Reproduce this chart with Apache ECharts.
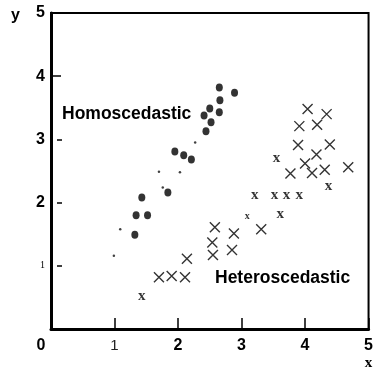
<!DOCTYPE html>
<html>
<head>
<meta charset="utf-8">
<script src="https://cdn.jsdelivr.net/npm/echarts@6/dist/echarts.min.js"></script>
<style>
html,body{margin:0;padding:0;background:#fff}
#chart{width:376px;height:371px}
</style>
</head>
<body>
<div id="chart"></div>
<script>
// Axis ranges and tick labels
const xTickLabels = ['0', '1', '2', '3', '4', '5'];
const yTickLabels = ['', '1', '2', '3', '4', '5'];

// Homoscedastic group: filled dots
const homoscedastic = [
  [1.32, 1.49], [1.34, 1.80], [1.52, 1.80], [1.43, 2.08], [1.84, 2.16],
  [1.95, 2.81], [2.09, 2.75], [2.21, 2.68], [2.44, 3.13], [2.52, 3.27],
  [2.41, 3.38], [2.50, 3.49], [2.65, 3.43], [2.66, 3.62], [2.65, 3.82],
  [2.89, 3.74]
];

// Faint small specks near the homoscedastic trend
const homoscedasticSpecks = [
  [0.99, 1.16], [1.09, 1.58], [1.70, 2.49], [2.03, 2.48], [1.76, 2.24], [2.27, 2.95]
];

// Heteroscedastic group: drawn as crosses
const heteroCrosses = [
  [1.70, 0.82], [1.90, 0.84], [2.11, 0.82], [2.14, 1.11], [2.54, 1.37],
  [2.55, 1.17], [2.58, 1.61], [2.85, 1.25], [2.88, 1.51], [3.31, 1.58],
  [3.77, 2.46], [3.89, 2.91], [3.91, 3.21], [4.00, 2.62], [4.04, 3.48],
  [4.11, 2.47], [4.18, 2.76], [4.19, 3.23], [4.31, 2.52], [4.34, 3.40],
  [4.39, 2.92], [4.68, 2.56]
];

// Heteroscedastic group: points printed as a serif letter x
const heteroLetters = [
  [1.43, 0.51], [3.21, 2.11], [3.52, 2.11], [3.71, 2.11], [3.91, 2.11],
  [3.55, 2.69], [3.61, 1.80], [4.37, 2.24]
];
const heteroSmallLetters = [[3.09, 1.77]];

const SANS = 'Liberation Sans, Arial, sans-serif';
const SERIF = 'Liberation Serif, Times New Roman, serif';

const chart = echarts.init(document.getElementById('chart'), null, { renderer: 'canvas' });

const letterLabel = (size) => ({
  show: true,
  position: 'inside',
  formatter: 'x',
  color: '#000',
  fontFamily: SERIF,
  fontWeight: 'bold',
  fontSize: size,
  offset: [0, -1]
});

chart.setOption({
  animation: false,
  backgroundColor: '#fff',
  grid: {
    left: 51, right: 5, top: 13, bottom: 41,
    show: true, borderColor: '#000', borderWidth: 2,
    backgroundColor: 'transparent'
  },
  xAxis: {
    type: 'value', min: 0, max: 5, interval: 1,
    name: 'x', nameLocation: 'end', nameGap: 0,
    nameTextStyle: {
      fontFamily: SERIF, fontWeight: 'bold', fontSize: 15, color: '#000',
      align: 'center', verticalAlign: 'top', padding: [27, 0, 0, 0]
    },
    axisLine: { show: true, onZero: false, lineStyle: { color: '#000', width: 3 } },
    axisTick: { show: true, inside: true, length: 11, lineStyle: { color: '#000', width: 1.5 } },
    splitLine: { show: false },
    axisLabel: {
      margin: 9,
      formatter: (v) => {
        const t = xTickLabels[Math.round(v)];
        if (v === 0) return '{z|' + t + '}';
        if (v === 1) return '{l|' + t + '}';
        return '{b|' + t + '}';
      },
      rich: {
        z: { fontFamily: SANS, fontWeight: 'bold', fontSize: 16, color: '#000', padding: [0, 20, 0, 0] },
        l: { fontFamily: SANS, fontWeight: 'normal', fontSize: 15, color: '#222' },
        b: { fontFamily: SANS, fontWeight: 'bold', fontSize: 16, color: '#000' }
      }
    }
  },
  yAxis: [
    {
      type: 'value', min: 0, max: 5, interval: 1, position: 'left',
      name: 'y', nameLocation: 'end', nameGap: -3,
      nameTextStyle: {
        fontFamily: SANS, fontWeight: 'bold', fontSize: 16, color: '#000',
        align: 'right', verticalAlign: 'middle', padding: [0, 31, 0, 0]
      },
      axisLine: { show: true, onZero: false, lineStyle: { color: '#000', width: 3 } },
      axisTick: { show: true, inside: true, length: 10, customValues: [4], lineStyle: { color: '#000', width: 1.5 } },
      splitLine: { show: false },
      axisLabel: {
        margin: 6,
        formatter: (v) => {
          const t = yTickLabels[Math.round(v)];
          if (!t) return '';
          return v === 1 ? '{s|' + t + '}' : '{b|' + t + '}';
        },
        rich: {
          s: { fontFamily: SERIF, fontSize: 10, color: '#000' },
          b: { fontFamily: SANS, fontWeight: 'bold', fontSize: 16, color: '#000' }
        }
      }
    },
    {
      // short dashes set just inside the left axis
      type: 'value', min: 0, max: 5, interval: 1, position: 'left', offset: -6,
      axisLine: { show: false },
      axisTick: { show: true, inside: true, length: 5, customValues: [1, 2, 3], lineStyle: { color: '#000', width: 1.5 } },
      axisLabel: { show: false },
      splitLine: { show: false }
    }
  ],
  graphic: [
    {
      type: 'text', left: 62, top: 105,
      style: { text: 'Homoscedastic', fontFamily: SANS, fontWeight: 'bold', fontSize: 17.5, fill: '#000' }
    },
    {
      type: 'text', left: 215, top: 269,
      style: { text: 'Heteroscedastic', fontFamily: SANS, fontWeight: 'bold', fontSize: 17.5, fill: '#000' }
    }
  ],
  series: [
    {
      name: 'Homoscedastic', type: 'scatter', yAxisIndex: 0,
      data: homoscedastic, symbol: 'circle', symbolSize: [7, 8],
      itemStyle: { color: '#000' }
    },
    {
      name: 'specks', type: 'scatter', yAxisIndex: 0,
      data: homoscedasticSpecks, symbol: 'circle', symbolSize: 2.5,
      itemStyle: { color: '#111' }
    },
    {
      name: 'Heteroscedastic', type: 'scatter', yAxisIndex: 0,
      data: heteroCrosses, symbol: 'path://M0,0L10,10M10,0L0,10', symbolSize: 10,
      itemStyle: { color: '#000', borderColor: '#000', borderWidth: 1.4 }
    },
    {
      name: 'Heteroscedastic letters', type: 'scatter', yAxisIndex: 0,
      data: heteroLetters, symbol: 'circle', symbolSize: 1,
      itemStyle: { color: 'transparent' },
      label: letterLabel(15)
    },
    {
      name: 'Heteroscedastic small letters', type: 'scatter', yAxisIndex: 0,
      data: heteroSmallLetters, symbol: 'circle', symbolSize: 1,
      itemStyle: { color: 'transparent' },
      label: letterLabel(10)
    }
  ]
});
</script>
</body>
</html>
